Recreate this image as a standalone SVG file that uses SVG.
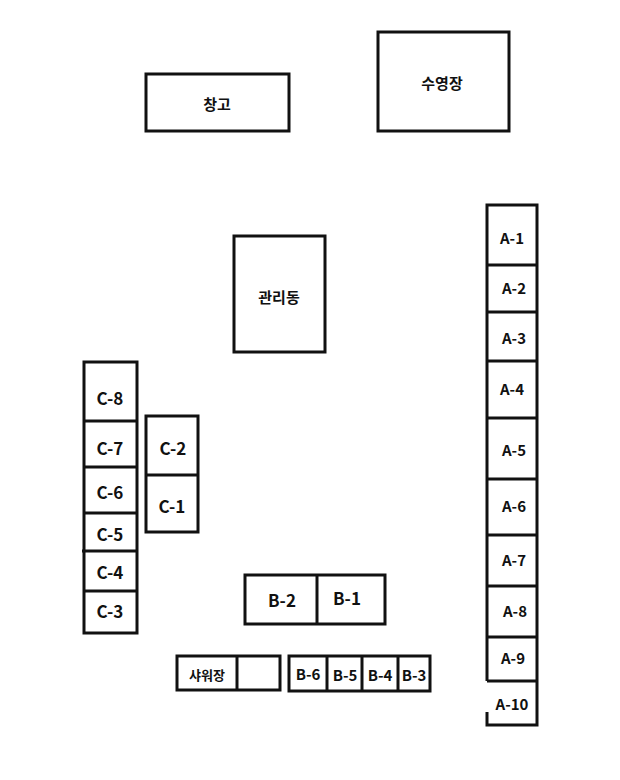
<svg xmlns="http://www.w3.org/2000/svg" width="620" height="780" viewBox="0 0 620 780">
<style>
rect,line,path{fill:none;stroke:#111;stroke-width:3}
text{font-family:"Noto Sans CJK KR","Liberation Sans",sans-serif;font-weight:bold;font-size:15px;fill:#111;text-anchor:middle;dominant-baseline:central}
.s{font-size:13px}
.l{font-size:17px}
</style>
<rect x="0" y="0" width="620" height="780" style="fill:#fff;stroke:none"/>
<g id="warehouse"><rect x="146" y="74" width="143" height="57"/><text x="217" y="103">창고</text></g>
<g id="pool"><rect x="378" y="32" width="131" height="99"/><text x="442" y="82">수영장</text></g>
<g id="admin"><rect x="234" y="236" width="91" height="116"/><text x="279" y="296">관리동</text></g>
<g id="C-col">
<rect x="84" y="362" width="53" height="271"/>
<line x1="84" y1="421" x2="137" y2="421"/><line x1="84" y1="467" x2="137" y2="467"/><line x1="84" y1="513" x2="137" y2="513"/><line x1="82" y1="551" x2="137" y2="551"/><line x1="84" y1="591" x2="137" y2="591"/>
<text x="110" y="397" class="l">C-8</text><text x="110" y="447" class="l">C-7</text><text x="110" y="491" class="l">C-6</text><text x="110" y="533" class="l">C-5</text><text x="110" y="571" class="l">C-4</text><text x="110" y="610" class="l">C-3</text>
</g>
<g id="C-pair">
<rect x="146" y="416" width="52" height="116"/><line x1="146" y1="475" x2="198" y2="475"/>
<text x="173" y="447" class="l">C-2</text><text x="172" y="505" class="l">C-1</text>
</g>
<g id="B-pair">
<rect x="245" y="575" width="140" height="49"/><line x1="317" y1="575" x2="317" y2="624"/>
<text x="282" y="599" class="l">B-2</text><text x="347" y="597" class="l">B-1</text>
</g>
<g id="shower">
<rect x="177" y="656" width="103" height="34"/><line x1="237" y1="656" x2="237" y2="690"/>
<text x="207" y="674" class="s">샤워장</text>
</g>
<g id="B-row">
<rect x="289" y="656" width="141" height="35"/>
<line x1="327" y1="656" x2="327" y2="691"/><line x1="362" y1="656" x2="362" y2="691"/><line x1="398" y1="656" x2="398" y2="691"/>
<text x="308" y="673">B-6</text><text x="345" y="674">B-5</text><text x="380" y="674">B-4</text><text x="414" y="674">B-3</text>
</g>
<g id="A-col">
<path d="M487,681 V205 H537 V725 H487 V712"/>
<line x1="487" y1="265" x2="537" y2="265"/><line x1="487" y1="312" x2="537" y2="312"/><line x1="487" y1="361" x2="537" y2="361"/><line x1="487" y1="418" x2="537" y2="418"/><line x1="487" y1="479" x2="537" y2="479"/><line x1="487" y1="535" x2="537" y2="535"/><line x1="487" y1="586" x2="537" y2="586"/><line x1="487" y1="637" x2="537" y2="637"/><line x1="487" y1="681" x2="537" y2="681"/>
<text x="512" y="237">A-1</text><text x="514" y="287">A-2</text><text x="514" y="337">A-3</text><text x="512" y="388">A-4</text><text x="514" y="449">A-5</text><text x="514" y="505">A-6</text><text x="514" y="559">A-7</text><text x="515" y="610">A-8</text><text x="513" y="657">A-9</text><text x="512" y="703">A-10</text>
</g>
</svg>
